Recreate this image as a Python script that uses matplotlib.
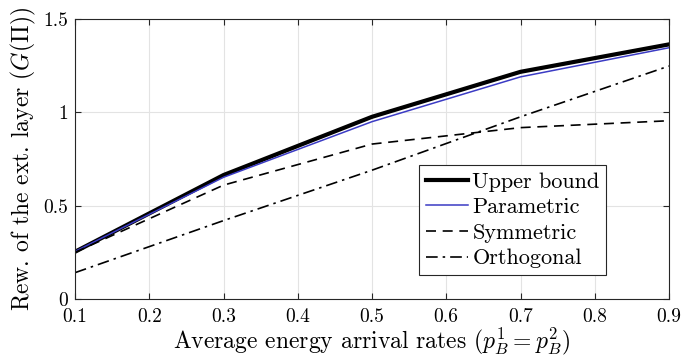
import matplotlib
matplotlib.use("Agg")
import matplotlib.pyplot as plt

plt.rcParams['font.family'] = ['cmr10']
plt.rcParams['mathtext.fontset'] = 'cm'
plt.rcParams['axes.formatter.use_mathtext'] = True

x = [0.1, 0.3, 0.5, 0.7, 0.9]
upper = [0.253, 0.664, 0.976, 1.217, 1.364]
parametric = [0.255, 0.652, 0.950, 1.190, 1.346]
symmetric = [0.250, 0.610, 0.830, 0.918, 0.955]
orthogonal = [0.141, 0.420, 0.690, 0.976, 1.248]

xticks = [0.1, 0.2, 0.3, 0.4, 0.5, 0.6, 0.7, 0.8, 0.9]
xticklabels = ['0.1', '0.2', '0.3', '0.4', '0.5', '0.6', '0.7', '0.8', '0.9']
yticks = [0, 0.5, 1, 1.5]
yticklabels = ['0', '0.5', '1', '1.5']

fig = plt.figure(figsize=(6.94, 3.6), dpi=100)
ax = fig.add_axes([75/694, 1 - 299/360, (669-75)/694, (299-19)/360])

ax.plot(x, upper, color='black', lw=3, label='Upper bound')
ax.plot(x, parametric, color='#3b3bc4', lw=1.1, label='Parametric')
ax.plot(x, symmetric, color='black', lw=1.2, ls=(0, (6, 4)), label='Symmetric')
ax.plot(x, orthogonal, color='black', lw=1.2, ls=(0, (7, 3, 1.5, 3)), label='Orthogonal')

ax.set_xlim(0.1, 0.9)
ax.set_ylim(0, 1.5)
ax.set_xticks(xticks)
ax.set_xticklabels(xticklabels)
ax.set_yticks(yticks)
ax.set_yticklabels(yticklabels)
ax.grid(True, color='#e3e3e3', lw=0.8)
ax.set_axisbelow(True)
ax.tick_params(direction='in', top=True, right=True, labelsize=14, length=4, width=0.8, colors='#262626')
ax.tick_params(axis='x', pad=6.5)
ax.tick_params(axis='y', pad=5)
ax.tick_params(labelcolor='black')
for s in ax.spines.values():
    s.set_linewidth(0.8)
    s.set_color('#262626')

ax.set_xlabel(r'Average energy arrival rates ($p_B^1 = p_B^2$)', fontsize=17, labelpad=0)
ax.set_ylabel(r'Rew. of the ext. layer ($G(\Pi)$)', fontsize=17, labelpad=4)

leg = ax.legend(loc='lower left', bbox_to_anchor=((419-75)/594, (299-275)/280), fontsize=16,
                frameon=True, fancybox=False, edgecolor='#262626', framealpha=1,
                borderpad=0.3, labelspacing=0.27, handlelength=1.9, handletextpad=0.2,
                borderaxespad=0)
leg.get_frame().set_linewidth(0.8)

fig.savefig('out.png', dpi=100)
